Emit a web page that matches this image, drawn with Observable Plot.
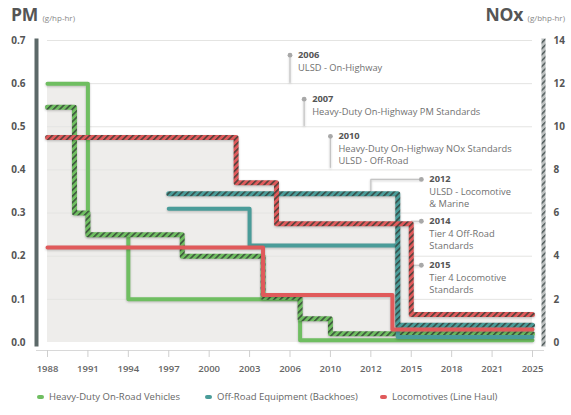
<!DOCTYPE html>
<html><head><meta charset="utf-8">
<script src="https://cdn.jsdelivr.net/npm/d3@7"></script>
<script src="https://cdn.jsdelivr.net/npm/@observablehq/plot@0.6"></script>
<style>
body{margin:0;background:#fff;font-family:"Open Sans",sans-serif;width:571px;height:415px;overflow:hidden;position:relative;}
#titles{position:relative;height:30px;}
.t{position:absolute;top:2px;font-weight:700;font-size:17.5px;color:#555;letter-spacing:-0.2px;}
.t span{font-weight:400;font-size:8px;color:#888;letter-spacing:0;}
#chart svg{display:block;}
#chart g[aria-label="line"]{filter:drop-shadow(0.5px 1.5px 1px rgba(0,0,0,0.22));}
.leg{position:absolute;top:390px;font-size:9.5px;color:#666;display:flex;align-items:center;white-space:nowrap;}
.sw{display:inline-block;width:7px;height:4px;border-radius:2px;margin-right:5px;}
</style></head>
<body>
<div id="titles">
  <div class="t" style="left:11px">PM <span>(g/hp-hr)</span></div>
  <div class="t" style="right:6px">NOx <span>(g/bhp-hr)</span></div>
</div>
<div id="chart"></div>
<div id="legend"></div>
<script>
// ---- axis ticks ----
const xTicks = [1988,1991,1994,1997,2000,2003,2006,2010,2012,2015,2018,2021,2025];
const pmTicks = [0,0.1,0.2,0.3,0.4,0.5,0.6,0.7];
const noxTicks = [0,2,4,6,8,10,12,14];
const pmMax = 0.7, noxMax = 14;

// ---- series (step values) ----
const seriesNames = ["Heavy-Duty On-Road Vehicles","Off-Road Equipment (Backhoes)","Locomotives (Line Haul)"];
const seriesColors = ["#6fbe61","#4a9c99","#e05a5b"];

const onRoadPmYears  = [1988,1991,1994,2007,2025];
const onRoadPm       = [0.6,0.25,0.1,0.005,0.005];
const onRoadNoxYears = [1988,1990,1991,1998,2004,2007,2010,2025];
const onRoadNox      = [10.9,6.0,5.0,4.0,2.1,1.1,0.4,0.4];

const offRoadPmYears  = [1997,2003,2014,2025];
const offRoadPm       = [0.31,0.225,0.013,0.013];
const offRoadNoxYears = [1997,2014,2025];
const offRoadNox      = [6.9,0.8,0.8];

const locoPmYears  = [1988,2004,2013.6,2025];
const locoPm       = [0.22,0.11,0.03,0.03];
const locoNoxYears = [1988,2002,2005,2015,2025];
const locoNox      = [9.5,7.4,5.5,1.3,1.3];

// ---- annotations ----
const annTitles = ["2006","2007","2010","2012","2014","2015"];
const annBodies = ["ULSD - On-Highway","Heavy-Duty On-Highway PM Standards","Heavy-Duty On-Highway NOx Standards\nULSD - Off-Road","ULSD - Locomotive\n& Marine","Tier 4 Off-Road\nStandards","Tier 4 Locomotive\nStandards"];
const annX = [2006,2007.4,2010,2015.75,2015.75,2015.75];
const annY = [0.666,0.564,0.478,0.378,0.281,0.179];
const annLeaders = [
  [[2006,0.666],[2006,0.603]],
  [[2007.4,0.564],[2007.4,0.503]],
  [[2010,0.478],[2010,0.406]],
  [[2015.75,0.378],[2012,0.378],[2012,0.352]],
  [[2015.75,0.281],[2015,0.281]],
  [[2015.75,0.179],[2015,0.179]]
];

// ---- build tables ----
const k = pmMax / noxMax;
const mk = (years, vals, scale) => years.map((x,i) => ({x, y: vals[i]*scale}));
const pmSeries = [mk(onRoadPmYears,onRoadPm,1), mk(offRoadPmYears,offRoadPm,1), mk(locoPmYears,locoPm,1)];
const noxSeries = [mk(onRoadNoxYears,onRoadNox,k), mk(offRoadNoxYears,offRoadNox,k), mk(locoNoxYears,locoNox,k)];
const all = [...pmSeries, ...noxSeries];
const valueAt = (s, x) => { let v = 0; for (const p of s) if (p.x <= x) v = p.y; return v; };
const xs = Array.from(new Set(all.flatMap(s => s.map(p => p.x)))).sort((a,b)=>a-b);
const envelope = xs.map(x => ({x, y: d3.max(all, s => valueAt(s, x))}));

const ann = annTitles.map((t,i) => ({title:t, body:annBodies[i], x:annX[i], y:annY[i]}));
const leaders = annLeaders.flatMap((pts,i) => pts.map(([x,y]) => ({i, x, y})));

const hatchIds = ["hG","hT","hR"];
const defs = () => {
  const g = document.createElementNS("http://www.w3.org/2000/svg","defs");
  const pats = seriesColors.map((c,i) => `<pattern id="${hatchIds[i]}" patternUnits="userSpaceOnUse" width="4.4" height="4.4" patternTransform="rotate(45)"><rect width="4.4" height="4.4" fill="${c}"/><rect width="1.6" height="4.4" fill="#2f3a33" fill-opacity="0.8"/></pattern>`).join("");
  g.innerHTML = pats + `<pattern id="hGrey" patternUnits="userSpaceOnUse" width="4.2" height="4.2" patternTransform="rotate(45)"><rect width="4.2" height="4.2" fill="#bcc0c0"/><rect width="1.5" height="4.2" fill="#556060"/></pattern>`;
  return g;
};

const x0 = 47, x1 = 532;
const chart = Plot.plot({
  width: 571, height: 355,
  marginTop: 10, marginBottom: 35, marginLeft: 36, marginRight: 28,
  style: {fontFamily: "Open Sans", fontSize: "9.5px", color: "#666", background: "transparent"},
  x: {type: "linear", domain: xTicks, range: xTicks.map((d,i) => x0 + i*(x1-x0)/(xTicks.length-1)), axis: null, label: null},
  y: {domain: [0, pmMax], range: [312, 10], axis: null, label: null},
  marks: [
    defs,
    Plot.areaY(envelope, {x: "x", y: "y", curve: "step-after", fill: "#eeedeb"}),
    Plot.ruleY(pmTicks.slice(1), {x1: xTicks[0], x2: xTicks[xTicks.length-1], stroke: "#e4e4e2", strokeWidth: 1}),
    Plot.frame({anchor: "bottom", stroke: "#d8d8d8"}),
    Plot.frame({anchor: "left", stroke: "#5c6969", strokeWidth: 4, insetBottom: 6}),
    Plot.frame({anchor: "right", stroke: "url(#hGrey)", strokeWidth: 4, insetBottom: 6}),
    Plot.axisX(xTicks, {label: null, tickSize: 7, tickPadding: 8, tickFormat: d => String(d), stroke: "#cfcfcf", fill: "#666", fontWeight: 600, fontSize: 9.5}),
    Plot.axisY(pmTicks, {label: null, anchor: "left", tickSize: 0, tickPadding: 11, tickFormat: d => d.toFixed(1), fill: "#555", fontWeight: 700, fontSize: 10}),
    Plot.text(noxTicks, {y: d => d*k, frameAnchor: "right", dx: 10, textAnchor: "start", text: d => String(d), fill: "#555", fontWeight: 700, fontSize: 10}),
    // annotations
    Plot.line(leaders, {x: "x", y: "y", z: "i", stroke: "#c4c4c4", strokeWidth: 1.2}),
    Plot.dot(ann, {x: "x", y: "y", r: 2.4, fill: "#a8a8a8"}),
    Plot.text(ann, {x: "x", y: "y", text: "title", textAnchor: "start", dx: 8, dy: -0.5, fill: "#555", fontWeight: 700, fontSize: 9.3}),
    Plot.text(ann, {x: "x", y: "y", text: "body", textAnchor: "start", lineAnchor: "top", dx: 8, dy: 7, lineHeight: 1.3, fill: "#707070", fontSize: 9.3}),
    // series
    ...[0,1,2].flatMap(i => [
      Plot.line(pmSeries[i], {x: "x", y: "y", curve: "step-after", stroke: seriesColors[i], strokeWidth: 4}),
      Plot.line(noxSeries[i], {x: "x", y: "y", curve: "step-after", stroke: `url(#${hatchIds[i]})`, strokeWidth: 5})
    ])
  ]
});
document.getElementById("chart").append(chart);

// legend
const legX = [[37,48],[205,215],[380,390]];
const leg = document.getElementById("legend");
seriesNames.forEach((n,i) => {
  const d = document.createElement("div");
  d.className = "leg";
  d.style.left = legX[i][0] + "px";
  d.innerHTML = `<span class="sw" style="background:${seriesColors[i]}"></span>${n}`;
  leg.append(d);
});
</script>
</body></html>
